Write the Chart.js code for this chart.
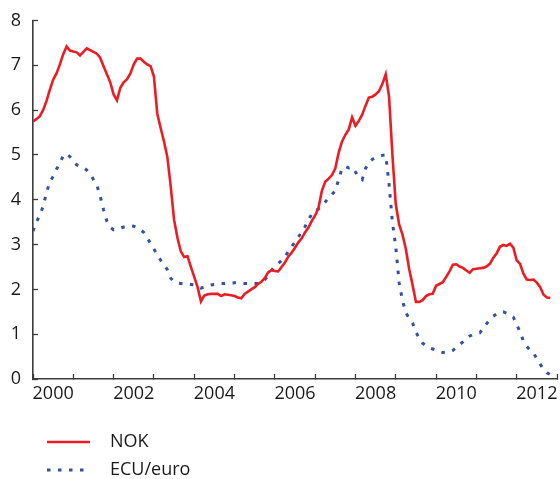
<!DOCTYPE html>
<html>
<head>
<meta charset="utf-8">
<script src="https://cdn.jsdelivr.net/npm/chart.js@4/dist/chart.umd.min.js"></script>
<style>
  html, body { margin: 0; padding: 0; background: #ffffff; }
  #wrap { width: 560px; height: 479px; position: relative; }
</style>
</head>
<body>
<div id="wrap"><canvas id="chart"></canvas></div>
<script>
// Monthly series, January 2000 onwards
const startYear = 2000;
const yearLabels = ['2000', '2002', '2004', '2006', '2008', '2010', '2012'];
const seriesNames = ['NOK', 'ECU/euro'];

const nok = [
  5.75, 5.80, 5.86, 6.00, 6.20, 6.45, 6.68, 6.82, 7.02, 7.25, 7.42, 7.33,
  7.31, 7.29, 7.22, 7.30, 7.38, 7.34, 7.30, 7.26, 7.17, 6.98, 6.80, 6.62,
  6.35, 6.22, 6.50, 6.62, 6.69, 6.82, 7.02, 7.15, 7.15, 7.08, 7.02, 6.98,
  6.75, 5.92, 5.60, 5.30, 4.95, 4.30, 3.55, 3.15, 2.85, 2.72, 2.74, 2.50,
  2.28, 2.05, 1.73, 1.86, 1.89, 1.90, 1.90, 1.90, 1.85, 1.89, 1.88, 1.87,
  1.85, 1.82, 1.80, 1.90, 1.95, 2.00, 2.05, 2.12, 2.17, 2.25, 2.38, 2.43,
  2.41, 2.40, 2.50, 2.60, 2.73, 2.82, 2.93, 3.05, 3.14, 3.27, 3.38, 3.53,
  3.65, 3.82, 4.20, 4.40, 4.47, 4.55, 4.70, 5.05, 5.30, 5.45, 5.57, 5.84,
  5.65, 5.76, 5.90, 6.10, 6.28, 6.30, 6.35, 6.42, 6.58, 6.80, 6.30, 5.00,
  3.90, 3.45, 3.22, 2.90, 2.45, 2.10, 1.72, 1.72, 1.76, 1.85, 1.89, 1.90,
  2.08, 2.12, 2.16, 2.28, 2.40, 2.55, 2.56, 2.51, 2.48, 2.42, 2.37, 2.45,
  2.46, 2.47, 2.48, 2.51, 2.57, 2.70, 2.80, 2.95, 2.99, 2.97, 3.02, 2.93,
  2.65, 2.57, 2.35, 2.22, 2.21, 2.22, 2.15, 2.05, 1.88, 1.82, 1.81
];

const ecu = [
  3.30, 3.50, 3.65, 3.85, 4.15, 4.40, 4.52, 4.68, 4.82, 4.98, 5.03, 4.96,
  4.88, 4.78, 4.74, 4.72, 4.66, 4.58, 4.45, 4.33, 4.08, 3.78, 3.52, 3.38,
  3.33, 3.35, 3.37, 3.39, 3.40, 3.42, 3.41, 3.38, 3.33, 3.27, 3.16, 3.02,
  2.90, 2.77, 2.65, 2.55, 2.44, 2.25, 2.17, 2.14, 2.13, 2.12, 2.12, 2.11,
  2.10, 2.07, 2.03, 2.05, 2.08, 2.10, 2.11, 2.12, 2.13, 2.13, 2.14, 2.14,
  2.15, 2.14, 2.13, 2.13, 2.13, 2.13, 2.13, 2.13, 2.17, 2.22, 2.30, 2.42,
  2.52, 2.58, 2.64, 2.73, 2.84, 2.95, 3.06, 3.17, 3.27, 3.40, 3.55, 3.68,
  3.75, 3.80, 3.86, 3.95, 4.04, 4.12, 4.20, 4.45, 4.70, 4.74, 4.71, 4.73,
  4.62, 4.50, 4.45, 4.70, 4.82, 4.90, 4.94, 4.97, 4.99, 5.00, 4.35, 3.50,
  2.95, 2.15, 1.75, 1.48, 1.35, 1.25, 1.05, 0.90, 0.80, 0.74, 0.69, 0.67,
  0.65, 0.62, 0.59, 0.60, 0.61, 0.64, 0.70, 0.77, 0.83, 0.90, 0.96, 0.99,
  1.01, 1.03, 1.12, 1.23, 1.32, 1.40, 1.45, 1.49, 1.50, 1.47, 1.43, 1.38,
  1.22, 1.05, 0.85, 0.73, 0.64, 0.58, 0.45, 0.33, 0.22, 0.14, 0.10
];

const RED = '#ec1c24';
const BLUE = '#3450a2';
const AXIS = '#3c3c3c';
const TEXT = '#1a1a1a';
const FONT = "'Open Sans', 'DejaVu Sans', sans-serif";

// month index -> fractional year
const toPoints = arr => arr.map((v, i) => ({ x: startYear + i / 12, y: v }));

// Legend stacked below the plot: a sample stroke followed by the series name
const stackedLegend = {
  id: 'stackedLegend',
  afterDraw(chart) {
    const ctx = chart.ctx;
    const rows = [442, 470];
    ctx.save();
    chart.data.datasets.forEach((ds, i) => {
      const y = rows[i];
      ctx.beginPath();
      ctx.strokeStyle = ds.borderColor;
      ctx.lineWidth = ds.borderWidth;
      ctx.setLineDash(ds.borderDash || []);
      ctx.lineCap = 'butt';
      ctx.moveTo(47, y);
      ctx.lineTo(90, y);
      ctx.stroke();
      ctx.setLineDash([]);
      ctx.fillStyle = TEXT;
      ctx.font = '18px ' + FONT;
      ctx.textBaseline = 'middle';
      ctx.textAlign = 'left';
      ctx.fillText(ds.label, 110, y);
    });
    ctx.restore();
  }
};

new Chart(document.getElementById('chart'), {
  type: 'line',
  data: {
    datasets: [
      {
        label: seriesNames[0],
        data: toPoints(nok),
        borderColor: RED,
        borderWidth: 2.6,
        pointRadius: 0,
        tension: 0,
        fill: false
      },
      {
        label: seriesNames[1],
        data: toPoints(ecu),
        borderColor: BLUE,
        borderWidth: 3,
        borderDash: [3.5, 7.5],
        borderCapStyle: 'butt',
        pointRadius: 0,
        tension: 0,
        fill: false
      }
    ]
  },
  options: {
    responsive: true,
    maintainAspectRatio: false,
    animation: false,
    layout: { padding: { top: 20.5, right: 3, bottom: 70, left: 0 } },
    plugins: {
      legend: { display: false },
      tooltip: { enabled: false }
    },
    scales: {
      x: {
        type: 'linear',
        min: 2000,
        max: 2013,
        // a tick every half year: marks on whole years, labels mid-year
        afterBuildTicks(scale) {
          const t = [];
          for (let v = 2000; v <= 2013; v += 0.5) t.push({ value: v });
          scale.ticks = t;
        },
        afterFit(scale) {
          scale.height = 30;
          scale.paddingLeft = 0;
          scale.paddingRight = 0;
        },
        ticks: {
          autoSkip: false,
          maxRotation: 0,
          padding: 9,
          color: TEXT,
          font: { family: FONT, size: 18 },
          callback(value) {
            const lbl = String(Math.floor(value));
            return (value % 1 !== 0 && yearLabels.includes(lbl)) ? lbl : '';
          }
        },
        grid: {
          drawOnChartArea: false,
          tickLength: -5,
          tickWidth: 1.3,
          tickColor: ctx => (ctx.tick && Number.isInteger(ctx.tick.value)) ? AXIS : 'rgba(0,0,0,0)'
        },
        border: { display: true, color: AXIS, width: 1.6 }
      },
      y: {
        min: 0,
        max: 8,
        afterFit(scale) {
          scale.width = 33;
          scale.paddingTop = 0;
          scale.paddingBottom = 0;
        },
        ticks: {
          stepSize: 1,
          padding: 17,
          color: TEXT,
          font: { family: FONT, size: 18 }
        },
        grid: {
          drawOnChartArea: false,
          tickLength: -5,
          tickWidth: 1.3,
          tickColor: AXIS
        },
        border: { display: true, color: AXIS, width: 1.6 }
      }
    }
  },
  plugins: [stackedLegend]
});
</script>
</body>
</html>
